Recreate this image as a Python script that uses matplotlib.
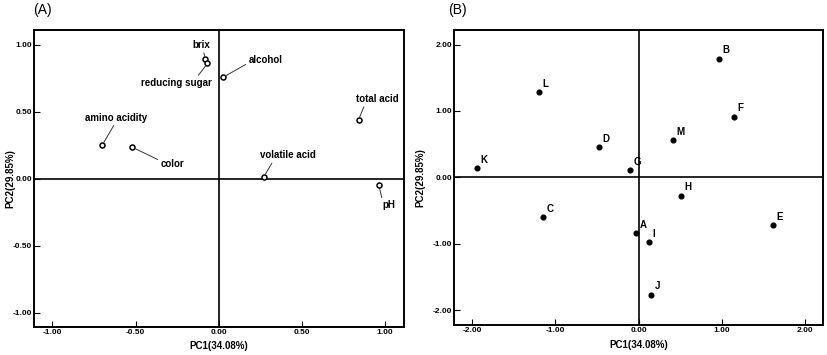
import matplotlib
matplotlib.use("Agg")
import matplotlib.pyplot as plt

plt.rcParams['font.family'] = ['Liberation Sans', 'DejaVu Sans']

# Panel A: loadings
load_names = ["brix", "reducing sugar", "alcohol", "total acid", "amino acidity",
              "color", "volatile acid", "pH"]
load_pc1 = [-0.08, -0.068, 0.026, 0.84, -0.70, -0.52, 0.27, 0.962]
load_pc2 = [0.89, 0.86, 0.757, 0.44, 0.25, 0.235, 0.012, -0.05]

# Panel B: scores
score_names = ["B", "L", "F", "D", "M", "K", "G", "H", "C", "E", "A", "I", "J"]
score_pc1 = [0.97, -1.20, 1.15, -0.475, 0.416, -1.94, -0.104, 0.51, -1.15, 1.61, -0.028, 0.12, 0.154]
score_pc2 = [1.79, 1.285, 0.914, 0.456, 0.56, 0.136, 0.11, -0.28, -0.60, -0.72, -0.84, -0.98, -1.77]

ticks_a = [-1.0, -0.5, 0.0, 0.5, 1.0]
ticks_b = [-2.0, -1.0, 0.0, 1.0, 2.0]
xlabel = "PC1(34.08%)"
ylabel = "PC2(29.85%)"

# label layout for panel A (offset in points, relpos of leader on text)
label_layout_a = {
    "brix": ((-2.9, 10.3), (0.6, 0.0)),
    "reducing sugar": ((-22.3, -14.1), (0.78, 1.0)),
    "alcohol": ((30.5, 12.5), (0.0, 0.2)),
    "total acid": ((13.2, 14.8), (0.22, 0.0)),
    "amino acidity": ((10.3, 19.7), (0.48, 0.0)),
    "color": ((28.8, -12.0), (0.0, 0.8)),
    "volatile acid": ((17.5, 15.6), (0.24, 0.0)),
    "pH": ((7.2, -14.4), (0.0, 1.0)),
}

fig = plt.figure(figsize=(8.27, 3.55), dpi=100)
W, H = 827, 355
def rect(l, t, r, b):
    return [l / W, 1 - b / H, (r - l) / W, (b - t) / H]

axA = fig.add_axes(rect(34, 30, 403.5, 327.3))
axB = fig.add_axes(rect(454, 30, 823.3, 324.7))

def style(ax, ticks, lim, ylab_x, xlab_y):
    ax.set_xlim(-lim, lim)
    ax.set_ylim(-lim, lim)
    ax.set_xticks(ticks)
    ax.set_yticks(ticks)
    ax.set_xticklabels([f"{t:.2f}" for t in ticks], fontsize=6, fontweight='bold')
    ax.set_yticklabels([f"{t:.2f}" for t in ticks], fontsize=6, fontweight='bold')
    ax.tick_params(direction='in', length=4, width=0.8, pad=1.5)
    for s in ax.spines.values():
        s.set_linewidth(1.4)
    ax.axhline(0, color='black', lw=1.2, zorder=1)
    ax.axvline(0, color='black', lw=1.2, zorder=1)
    ax.set_xlabel(xlabel, fontsize=7, fontweight='bold')
    ax.set_ylabel(ylabel, fontsize=7, fontweight='bold')
    ax.xaxis.set_label_coords(0.5, xlab_y)
    ax.yaxis.set_label_coords(ylab_x, 0.5)

style(axA, ticks_a, 1.11, -0.051, -0.047)
style(axB, ticks_b, 2.22, -0.0785, -0.052)

axA.plot(load_pc1, load_pc2, 'o', ms=3.6, mfc='white', mec='black', mew=1.1, zorder=3)
for n, x, y in zip(load_names, load_pc1, load_pc2):
    off, rp = label_layout_a[n]
    axA.annotate(n, xy=(x, y), xytext=off, textcoords='offset points',
                 ha='center', va='center', fontsize=7, fontweight='bold',
                 arrowprops=dict(arrowstyle='-', lw=0.7, color='#333333',
                                 shrinkA=0, shrinkB=2, relpos=rp))

axB.plot(score_pc1, score_pc2, 'o', ms=3.4, color='black', zorder=3)
for n, x, y in zip(score_names, score_pc1, score_pc2):
    axB.annotate(n, xy=(x, y), xytext=(2.5, 2.5), textcoords='offset points',
                 ha='left', va='bottom', fontsize=7, fontweight='bold')

fig.text(33 / W, 1 - 10 / H, "(A)", fontsize=10, ha='left', va='center')
fig.text(448 / W, 1 - 10 / H, "(B)", fontsize=10, ha='left', va='center')

fig.savefig("out.png", dpi=100)
